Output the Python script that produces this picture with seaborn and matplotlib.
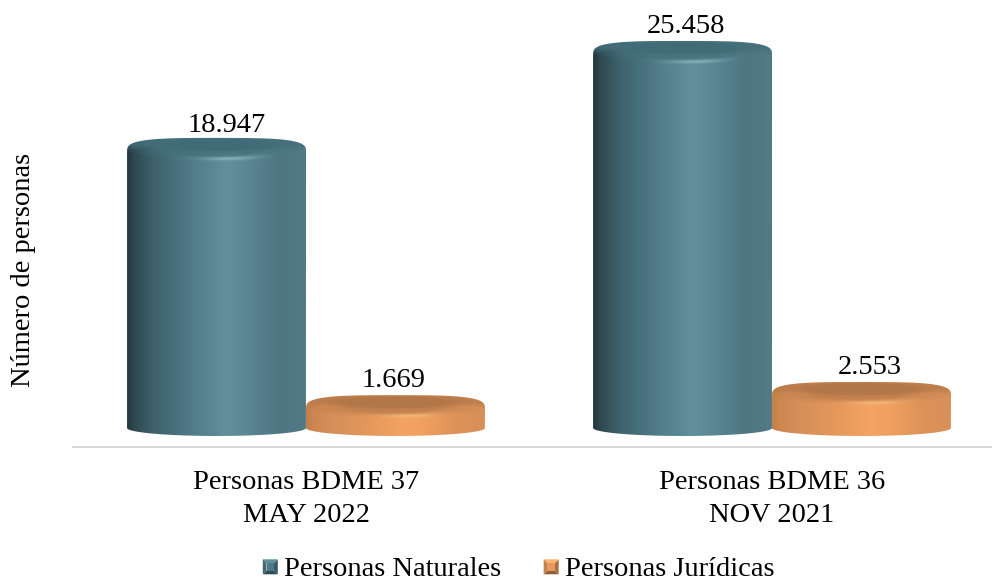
import numpy as np
import pandas as pd
import matplotlib
matplotlib.use("Agg")
import matplotlib.pyplot as plt
from matplotlib.colors import to_rgb
from matplotlib.legend_handler import HandlerBase
from matplotlib.patches import Patch, PathPatch, Polygon
from matplotlib.path import Path
from matplotlib.transforms import Affine2D
import seaborn as sns

periodos = ["Personas BDME 37\nMAY 2022", "Personas BDME 36\nNOV 2021"]
naturales = [18947, 25458]
juridicas = [1669, 2553]
tipos = ["Personas Naturales", "Personas Jurídicas"]

W, H = 992, 581

# horizontal shading of each cylinder, left to right
ramp_pos = [0, .04, .15, .35, .55, .63, .85, 1]
ramps = {
    "Personas Naturales": ["#22363c", "#2e4950", "#3e626b", "#4f7a87", "#628e9d", "#5e8a98", "#4e7582", "#527a87"],
    "Personas Jurídicas": ["#c27f48", "#cc864f", "#d68f58", "#e4985c", "#f4a462", "#f2a260", "#dd9259", "#d89058"],
}
caps = {"Personas Naturales": "#44707b", "Personas Jurídicas": "#b87a4a"}
shine = {"Personas Naturales": "#a0cbd6", "Personas Jurídicas": "#ffc98a"}
flat = {"Personas Naturales": "#4e7a87", "Personas Jurídicas": "#e8995c"}

# nudges of the value labels in pixels, as placed in the original
label_nudge = {
    "Personas Naturales": [(10, 1), (3, 3)],
    "Personas Jurídicas": [(-2, 3), (8, 3)],
}

sns.set_theme(style="white")
plt.rcParams["font.family"] = ["Liberation Serif", "DejaVu Serif"]
FS = 20.5

df = pd.DataFrame({
    "periodo": periodos * 2,
    "personas": naturales + juridicas,
    "tipo": [tipos[0]] * 2 + [tipos[1]] * 2,
})

fig = plt.figure(figsize=(W / 100, H / 100), dpi=100)
ax = fig.add_axes([73 / W, (H - 447) / H, (W - 73) / W, 447 / H])
sns.barplot(data=df, x="periodo", y="personas", hue="tipo", hue_order=tipos,
            palette=flat, width=0.768, gap=0, legend=False, ax=ax)
ax.set_xlim(-0.5, 1.472)
ax.set_ylim(-1007, 29013)
ax.set_xlabel("")
ax.set_ylabel("")
ax.set_yticks([])
ax.tick_params(axis="x", length=0, pad=16.5, labelsize=FS, colors="black")
for lab in ax.get_xticklabels():
    lab.set_linespacing(1.41)
for s in ["top", "left", "right"]:
    ax.spines[s].set_visible(False)
ax.spines["bottom"].set_color("#d9d9d9")
ax.spines["bottom"].set_linewidth(1.5)

fig.text(24 / W, 1 - 270 / H, "Número de personas", rotation=90,
         ha="center", va="center", fontsize=FS, color="black")

# picture pixels (y down) to display
to_disp = Affine2D().scale(1, -1).translate(0, H)


def outline(cx, a, ytop, ybot, back=12, front=8, n=80):
    t = np.linspace(0, np.pi, n)
    e = 2 / 3.4
    up_x = cx - a * np.sign(np.cos(t)) * np.abs(np.cos(t)) ** e
    up_y = ytop + 2 - (back + 2) * np.sin(t) ** e
    lo_x = cx + a * np.cos(t)
    lo_y = ybot + front * np.sin(t)
    return np.r_[np.c_[up_x, up_y], np.c_[lo_x, lo_y]]


def cylinder(rect, tipo, y0):
    # rect is the bar seaborn drew, read back in pixels
    (x0, yb), (x1, yt) = ax.transData.transform(
        [(rect.get_x(), 0), (rect.get_x() + rect.get_width(), rect.get_height())])
    left, right = x0, x1
    ytop = H - yt
    ybot = y0 - 4
    cx, a = (left + right) / 2, (right - left) / 2
    top_px, bot_px = int(ytop - 16), int(ybot + 10)
    xs = np.arange(int(left) - 1, int(right) + 2) + .5
    ys = np.arange(top_px, bot_px) + .5
    X, Y = np.meshgrid(xs, ys)
    u = np.clip((X - left) / (right - left), 0, 1)
    stops = np.array([to_rgb(c) for c in ramps[tipo]])
    img = np.dstack([np.interp(u, ramp_pos, stops[:, i]) for i in range(3)])

    cap = np.array(to_rgb(caps[tipo]))
    glow = np.array(to_rgb(shine[tipo]))
    # rim of the bevel, fading into the wall towards its front edge
    r = np.sqrt(((X - cx) / a) ** 2 + ((Y - ytop) / 11) ** 2)
    rim = np.clip((1 - r) / .55, 0, 1)
    rim = np.maximum(rim, np.clip((ytop + 2 - Y) / 7, 0, 1))
    img = img * (1 - rim[..., None] * .8) + cap * rim[..., None] * .8
    # flat inner top
    ri = np.sqrt(((X - cx) / (a * .86)) ** 2 + ((Y - ytop + 5) / 7.5) ** 2)
    inner = np.clip((1 - ri) * 3, 0, 1)[..., None]
    img = img * (1 - inner) + cap * .97 * inner
    # highlight on the front of the bevel
    spot = np.exp(-((r - .8) / .16) ** 2) * np.exp(-((X - cx - a * .15) / (a * .32)) ** 2) * (Y > ytop)
    img = img + (glow - img) * (spot[..., None] * .6)

    im = ax.imshow(img.clip(0, 1), extent=(xs[0] - .5, xs[-1] + .5, ys[-1] + .5, ys[0] - .5),
                   transform=to_disp, aspect="auto", zorder=3, interpolation="bilinear")
    clip = PathPatch(Path(outline(cx, a, ytop, ybot)), transform=to_disp, fc="none", ec="none")
    ax.add_patch(clip)
    im.set_clip_path(clip)


class BevelHandler(HandlerBase):
    def create_artists(self, legend, orig, xd, yd, width, height, fontsize, trans):
        base = np.array(to_rgb(orig.get_facecolor()[:3]))
        s = 15.0 * 72 / 100
        x, y = xd * -1, -yd + (height - s) / 2 - 1
        b = s * .25
        o = [(x, y), (x + s, y), (x + s, y + s), (x, y + s)]
        i = [(x + b, y + b), (x + s - b, y + b), (x + s - b, y + s - b), (x + b, y + s - b)]
        shades = [.62, .72, 1.18, .85]
        arts = []
        for k in range(4):
            j = (k + 1) % 4
            arts.append(Polygon([o[k], o[j], i[j], i[k]], fc=(base * shades[k]).clip(0, 1), ec="none", transform=trans))
        arts.append(Polygon(i, fc=base, ec="none", transform=trans))
        return arts


fig.canvas.draw()
for cont, tipo in zip(ax.containers, tipos):
    for rect in cont:
        cylinder(rect, tipo, 432)
        rect.set_visible(False)
    texts = ax.bar_label(cont, labels=[f"{v:,.0f}".replace(",", ".") for v in cont.datavalues],
                         padding=8, fontsize=FS, color="black", zorder=5)
    for txt, (dx, dy) in zip(texts, label_nudge[tipo]):
        px, py = txt.xyann
        txt.xyann = (px + dx * .72, py + dy * .72)
ax.set_xlim(-0.5, 1.472)
ax.set_ylim(-1007, 29013)

handles = [Patch(color=flat[t], label=t) for t in tipos]
fig.legend(handles=handles, loc="center", bbox_to_anchor=(518.5 / W, 1 - 569 / H), ncol=2,
           frameon=False, fontsize=FS, handlelength=.54, handleheight=.5, handletextpad=.2,
           columnspacing=1.5, borderpad=0, borderaxespad=0, labelcolor="black",
           handler_map={Patch: BevelHandler()})

fig.savefig("out.png", dpi=100)
